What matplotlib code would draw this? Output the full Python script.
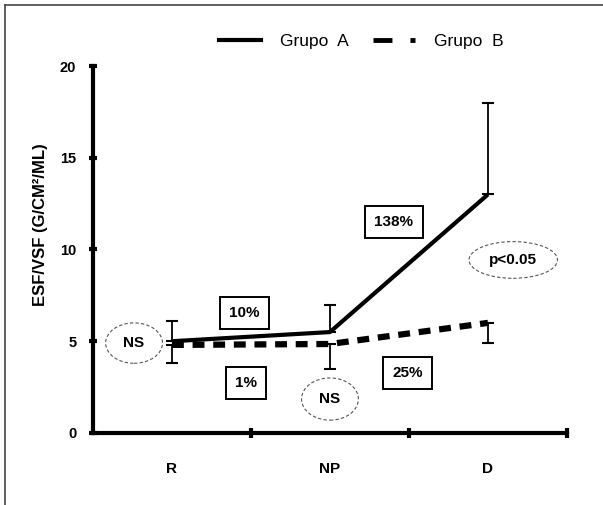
import matplotlib.pyplot as plt
from matplotlib.patches import Ellipse
from matplotlib.lines import Line2D

plt.rcParams['font.family'] = ['Liberation Sans', 'DejaVu Sans']

# data
grupos = ["R", "NP", "D"]
grupo_a = [5.0, 5.5, 13.0]
grupo_b = [4.8, 4.85, 6.0]
err_a_sup = [1.1, 1.5, 5.0]     # barra de error hacia arriba (Grupo A)
err_b_inf = [1.0, 1.35, 1.1]    # barra de error hacia abajo (Grupo B)
yticks = [0, 5, 10, 15, 20]

# anotaciones: (texto, x, y)
cajas = [("10%", 0.96, 6.54), ("1%", 0.97, 2.72),
         ("138%", 1.905, 11.5), ("25%", 1.99, 3.27)]
elipses = [("NS", 0.26, 4.9, 0.36, 2.2),
           ("NS", 1.50, 1.85, 0.36, 2.3),
           ("p<0.05", 2.66, 9.43, 0.56, 2.0)]

fig = plt.figure(figsize=(6.03, 5.05), dpi=100)
ax = fig.add_axes([0.1542, 0.1426, 0.786, 0.7267])

x = [0.5, 1.5, 2.5]
ax.plot(x, grupo_a, color="black", lw=3, solid_capstyle="butt", zorder=3)
ax.plot(x, grupo_b, color="black", lw=4.5, linestyle=(0, (1.9, 1.4)), zorder=3)
ax.errorbar(x, grupo_a, yerr=[[0, 0, 0], err_a_sup], fmt="none",
            ecolor="black", elinewidth=1.3, capsize=4, capthick=1.5)
ax.errorbar(x, grupo_b, yerr=[err_b_inf, [0, 0, 0]], fmt="none",
            ecolor="black", elinewidth=1.3, capsize=4, capthick=1.5)

for txt, xx, yy in cajas:
    ax.text(xx, yy, txt, ha="center", va="center", fontsize=11, fontweight="bold",
            bbox=dict(boxstyle="square,pad=0.6", fc="white", ec="black", lw=1.4))

for txt, xx, yy, w, h in elipses:
    ax.add_patch(Ellipse((xx, yy), w, h, fill=False, ec="#555555", lw=0.8,
                         linestyle=(0, (3, 2)), clip_on=False))
    ax.text(xx, yy, txt, ha="center", va="center", fontsize=11, fontweight="bold")

ax.set_xlim(0, 3)
ax.set_ylim(0, 20)
ax.set_yticks(yticks)
ax.set_yticklabels([str(v) for v in yticks], fontweight="bold", fontsize=10.5)
ax.set_xticks([1, 2, 3])
ax.set_xticklabels([])
ax.set_xticks(x, minor=True)
ax.set_xticklabels(grupos, minor=True, fontweight="bold", fontsize=11)
ax.tick_params(axis="x", which="minor", length=0, pad=21)
ax.tick_params(axis="x", which="major", direction="inout", length=7, width=3)
ax.tick_params(axis="y", direction="inout", length=6, width=3, pad=9)
for s in ["top", "right"]:
    ax.spines[s].set_visible(False)
for s in ["left", "bottom"]:
    ax.spines[s].set_linewidth(3)
ax.set_ylabel("ESF/VSF (G/CM²/ML)", fontweight="bold", fontsize=12)
ax.yaxis.set_label_coords(-0.095, 0.567)

handles = [Line2D([], [], color="black", lw=3),
           Line2D([], [], color="black", lw=3.5, linestyle=(0, (3.9, 3.7)))]
fig.legend(handles, ["Grupo  A", "Grupo  B"], loc="center",
           bbox_to_anchor=(0.599, 0.917), ncol=2, frameon=False, fontsize=12.5,
           handlelength=2.4, columnspacing=1.4, handletextpad=1.1)

# marco exterior
fig.add_artist(Line2D([0.0083, 0.0083], [0, 0.99], color="#444444", lw=1.2))
fig.add_artist(Line2D([0.0083, 1.0], [0.99, 0.99], color="#444444", lw=1.2))

fig.savefig("out.png", dpi=100)
